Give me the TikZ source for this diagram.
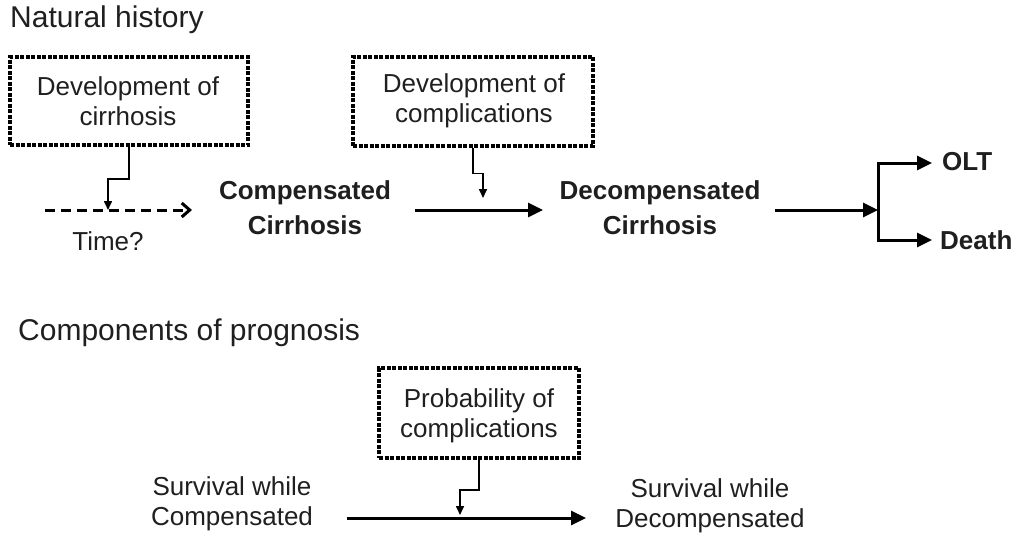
\documentclass[tikz,border=0pt]{standalone}
\usepackage{fontspec}
\setmainfont{Liberation Sans}
\usetikzlibrary{arrows.meta}
\begin{document}
\begin{tikzpicture}[x=1pt,y=-1pt,
  every node/.style={inner sep=0pt, text=black!88},
  body/.style={font=\fontsize{26}{30}\selectfont, align=center},
  bodybold/.style={font=\bfseries\fontsize{26}{35}\selectfont, align=center},
  heading/.style={font=\fontsize{30}{34}\selectfont, anchor=west},
  dotbox/.style={draw=black, line width=4pt, dash pattern=on 4pt off 1.5pt},
  mainarrow/.style={line width=3pt, -{Triangle[length=15pt,width=14pt]}},
  smallarrow/.style={line width=1.6pt, -{Triangle[length=9pt,width=8pt]}},
  dasharrow/.style={line width=3pt, dash pattern=on 10pt off 6pt, -{Straight Barb[length=8pt,width=14pt,line width=3pt]}},
  branch/.style={line width=3pt}
]
\useasboundingbox (0,0) rectangle (1020,541);

% headings
\node[heading] (nh) at (10,20) {Natural history};
\node[heading] (cp) at (18,333) {Components of prognosis};

% dotted boxes
\node[dotbox, minimum width=238pt, minimum height=88pt] (box1) at (129,101) {};
\node[body] (box1t) at (128,101) {Development of\\cirrhosis};
\node[dotbox, minimum width=240pt, minimum height=89pt] (box2) at (473,101) {};
\node[body] (box2t) at (474,101) {Development of\\complications};
\node[dotbox, minimum width=200pt, minimum height=90pt] (box3) at (479,413) {};
\node[body] (box3t) at (479,416) {Probability of\\complications};

% stage labels
\node[bodybold] (comp) at (305,208) {Compensated\\Cirrhosis};
\node[bodybold] (decomp) at (660,208) {Decompensated\\Cirrhosis};
\node[font=\bfseries\fontsize{26}{30}\selectfont, anchor=west] (olt) at (942,162) {OLT};
\node[font=\bfseries\fontsize{26}{30}\selectfont, anchor=west] (death) at (940,240) {Death};
\node[body] (time) at (108,241) {Time?};
\node[body] (survc) at (232,504) {Survival while\\Compensated};
\node[body] (survd) at (710,506) {Survival while\\Decompensated};

% arrow end coordinates
\coordinate (d0) at (45,210);
\coordinate (d1) at (192,210);
\coordinate (m0) at (415,210);
\coordinate (m1) at (543,210);
\coordinate (e0) at (775,210);
\coordinate (br) at (878,210);
\coordinate (oltin) at (932,163);
\coordinate (deathin) at (932,240);
\coordinate (b0) at (347,518);
\coordinate (b1) at (586,518);
\coordinate (t1) at (108,210);
\coordinate (t2) at (483,198);
\coordinate (t3) at (460,515);

% main arrows
\draw[dasharrow] (d0) -- (d1);
\draw[mainarrow] (m0) -- (m1);
\draw[mainarrow] (e0) -- (br);
\draw[mainarrow] (br) |- (oltin);
\draw[mainarrow] (br) |- (deathin);
\draw[mainarrow] (b0) -- (b1);

% small connectors
\draw[smallarrow] (box1.south) -- ++(0,32) -| (t1);
\draw[smallarrow] (box2.south) -- ++(0,26) -| (t2);
\draw[smallarrow] (box3.south) -- ++(0,30) -| (t3);
\end{tikzpicture}
\end{document}
